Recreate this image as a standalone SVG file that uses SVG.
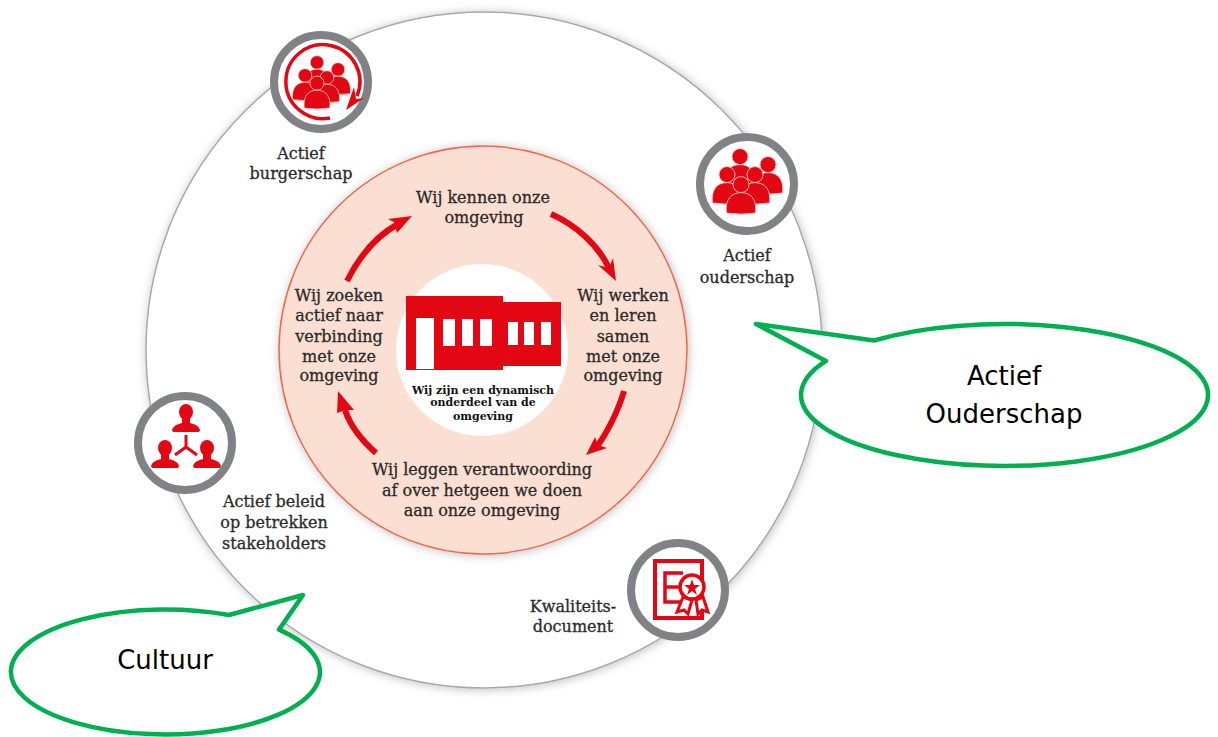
<svg xmlns="http://www.w3.org/2000/svg" width="1218" height="737" viewBox="0 0 1218 737">
<defs>
<filter id="soft" x="-10%" y="-10%" width="120%" height="120%"><feDropShadow dx="1" dy="1" stdDeviation="5" flood-color="#000" flood-opacity="0.25"/></filter>
<g id="p"><circle cx="0" cy="-17" r="11"/><path d="M-20 22C-22 4 -14 -6 0 -6C14 -6 22 4 20 22Q0 25 -20 22Z"/></g>
<g id="s"><ellipse cx="0" cy="-10" rx="7" ry="8"/><path d="M-4 -5L-4 1Q-13 3 -14 8Q-14 10 -12 10L12 10Q14 10 14 8Q13 3 4 1L4 -5Z"/></g>
</defs>
<style>
text{font-family:"DejaVu Serif","Liberation Serif",serif;fill:#2a2a2a;stroke:#2a2a2a;stroke-width:.3px;text-anchor:middle;font-size:16px}
.m{font-size:11px;font-weight:bold;fill:#111;stroke:none}
.c{font-family:"DejaVu Sans","Liberation Sans",sans-serif;fill:#000;stroke:none;font-size:26px}
.ring{fill:#fff;stroke:#808285;stroke-width:8}
.r{fill:#e30613}
.ppl{fill:#e30613;stroke:#fbd5cd;stroke-width:1.200px}
.a{fill:none;stroke:#e30613;stroke-width:6}
.h{fill:#e30613}
.l{fill:none;stroke:#e30613;stroke-width:3.500px}
.bub{fill:#fff;stroke:#00b050;stroke-width:4.500px;stroke-linejoin:round}
</style>
<g id="outer"><circle cx="484" cy="350" r="338" fill="#fff" stroke="#a8a8a8" stroke-width="1.500" filter="url(#soft)"/></g>
<g id="middle"><circle cx="483" cy="350" r="204" fill="#fcdfd3" stroke="#ea6a4f" stroke-width="1.500" filter="url(#soft)"/></g>
<g id="center"><circle cx="482" cy="350" r="86" fill="#fff"/>
<path class="r" d="M406 296H503V302H561V366H503V370H406Z"/>
<g fill="#fff"><rect x="416" y="318" width="18" height="51"/><rect x="443" y="319" width="12" height="27"/><rect x="462" y="319" width="11" height="27"/><rect x="480" y="319" width="12" height="27"/><rect x="508" y="322" width="10" height="23"/><rect x="524" y="322" width="10" height="23"/><rect x="541" y="322" width="10" height="23"/></g>
<text class="m" x="483" y="394">Wij zijn een dynamisch</text><text class="m" x="483" y="406">onderdeel van de</text><text class="m" x="483" y="420">omgeving</text></g>
<g id="connectors">
<path class="a" d="M347 281C360 255 378 235 398 224"/><path class="h" d="M412 216L388 219L394 222L397 233Z"/>
<path class="a" d="M551 214C576 225 598 245 609 268"/><path class="h" d="M616 281L613 258L609 268L598 265Z"/>
<path class="a" d="M624 391C618 412 606 434 598 445"/><path class="h" d="M586 455L607 448L598 445L595 437Z"/>
<path class="a" d="M376 453C359 438 350 425 345 410"/><path class="h" d="M338 391L337 413L345 410L354 410Z"/>
</g>
<g id="n1"><circle class="ring" cx="321" cy="82" r="47"/>
<g class="ppl"><use href="#p" transform="translate(317 73) scale(.62)"/><use href="#p" transform="translate(338 80) scale(.62)"/><use href="#p" transform="translate(305 86) scale(.62)"/><use href="#p" transform="translate(327 88) scale(.62)"/><use href="#p" transform="translate(317 94) scale(.64)"/></g>
<path d="M330 118A37 37 0 1 1 357 96" fill="none" stroke="#e30613" stroke-width="3.500"/><path class="h" d="M346 110L364 98L356 99L354 87Z"/>
<text x="301" y="159">Actief</text><text x="301" y="179">burgerschap</text></g>
<g id="n2"><circle class="ring" cx="747" cy="184" r="47"/>
<g class="ppl"><use href="#p" transform="translate(740 169) scale(.73)"/><use href="#p" transform="translate(768 177) scale(.73)"/><use href="#p" transform="translate(727 187) scale(.73)"/><use href="#p" transform="translate(755 187) scale(.73)"/><use href="#p" transform="translate(741 197) scale(.73)"/></g>
<text x="747" y="261">Actief</text><text x="747" y="283">ouderschap</text></g>
<g id="n3"><circle class="ring" cx="185" cy="443" r="47"/>
<g class="r"><use href="#s" transform="translate(186 422)"/><use href="#s" transform="translate(165 458)"/><use href="#s" transform="translate(207 458)"/></g>
<path d="M186 435V447M186 447L175 455M186 447L197 455" stroke="#e30613" stroke-width="3" fill="none"/>
<text x="274" y="507">Actief beleid</text><text x="274" y="528">op betrekken</text><text x="274" y="549">stakeholders</text></g>
<g id="n4"><circle class="ring" cx="678" cy="590" r="47"/>
<path d="M655 561H702V618H655Z" fill="none" stroke="#e30613" stroke-width="4"/>
<path d="M683 573H665V602H683M665 587H681" class="l"/>
<path d="M683 597L677 612L684 610L688 614L692 600ZM696 600L698 614L702 610L708 612L703 597Z" fill="#fff" stroke="#e30613" stroke-width="3"/>
<circle cx="692" cy="587" r="12" fill="#fff" stroke="#e30613" stroke-width="3.500"/><path class="h" d="M692 579L694 585L700 585L695 589L697 595L692 591L687 595L689 589L684 585L690 585Z"/>
<text x="573" y="612">Kwaliteits-</text><text x="573" y="632">document</text></g>
<g id="s1"><text x="483" y="203">Wij kennen onze</text><text x="484" y="223">omgeving</text></g>
<g id="s2"><text x="623" y="301">Wij werken</text><text x="623" y="321">en leren</text><text x="623" y="342">samen</text><text x="623" y="362">met onze</text><text x="623" y="381">omgeving</text></g>
<g id="s3"><text x="482" y="475">Wij leggen verantwoording</text><text x="482" y="496">af over hetgeen we doen</text><text x="482" y="516">aan onze omgeving</text></g>
<g id="s4"><text x="339" y="301">Wij zoeken</text><text x="339" y="321">actief naar</text><text x="339" y="342">verbinding</text><text x="339" y="362">met onze</text><text x="339" y="381">omgeving</text></g>
<g id="callout1"><path class="bub" d="M756 324L874 340.500A203.500 71 0 1 1 826 360.900Z"/>
<text class="c" x="1004" y="385">Actief</text><text class="c" x="1004" y="423">Ouderschap</text></g>
<g id="callout2"><path class="bub" d="M303 595L279 629.600A154.500 62.500 0 1 1 229 615Z"/>
<text class="c" x="165" y="669">Cultuur</text></g>
</svg>
